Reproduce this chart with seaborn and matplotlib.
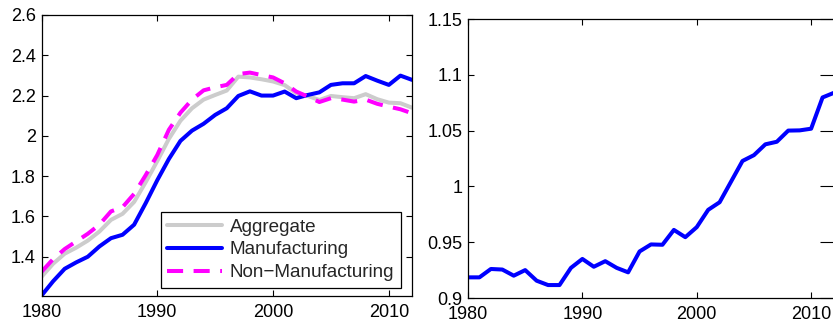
import matplotlib
matplotlib.use("Agg")
import matplotlib.pyplot as plt
import seaborn as sns
import pandas as pd

years = list(range(1980, 2013))

aggregate = [1.30, 1.365, 1.415, 1.445, 1.48, 1.525, 1.583, 1.613, 1.672, 1.77,
             1.875, 1.985, 2.075, 2.137, 2.18, 2.203, 2.225, 2.294, 2.29, 2.281,
             2.27, 2.252, 2.212, 2.198, 2.178, 2.198, 2.192, 2.187, 2.207, 2.182,
             2.165, 2.162, 2.14]

manufacturing = [1.207, 1.278, 1.34, 1.372, 1.40, 1.451, 1.492, 1.509, 1.559, 1.666,
                 1.78, 1.885, 1.975, 2.026, 2.06, 2.104, 2.137, 2.198, 2.221, 2.20,
                 2.20, 2.22, 2.187, 2.203, 2.216, 2.253, 2.261, 2.261, 2.297, 2.274,
                 2.253, 2.299, 2.278]

non_manufacturing = [1.325, 1.388, 1.438, 1.476, 1.514, 1.559, 1.625, 1.646, 1.712, 1.805,
                     1.905, 2.03, 2.115, 2.18, 2.226, 2.241, 2.253, 2.307, 2.314, 2.302,
                     2.29, 2.261, 2.22, 2.195, 2.168, 2.187, 2.18, 2.17, 2.18, 2.159,
                     2.145, 2.132, 2.112]

ratio = [0.9185, 0.9185, 0.926, 0.9255, 0.920, 0.925, 0.9155, 0.9116, 0.9116, 0.927,
         0.935, 0.928, 0.933, 0.927, 0.923, 0.9417, 0.948, 0.9477, 0.961, 0.9545,
         0.9635, 0.979, 0.9858, 1.0043, 1.0228, 1.028, 1.0377, 1.040, 1.050, 1.0502,
         1.0517, 1.0797, 1.0839]

series_names = ["Aggregate", "Manufacturing", "Non\u2212Manufacturing"]
x_ticks = [1980, 1990, 2000, 2010]
left_y_ticks = [1.4, 1.6, 1.8, 2.0, 2.2, 2.4, 2.6]
left_y_labels = ["1.4", "1.6", "1.8", "2", "2.2", "2.4", "2.6"]
right_y_ticks = [0.9, 0.95, 1.0, 1.05, 1.1, 1.15]
right_y_labels = ["0.9", "0.95", "1", "1.05", "1.1", "1.15"]

sns.set_theme(style="white")
plt.rcParams["font.family"] = ["Liberation Sans", "DejaVu Sans"]
plt.rcParams["axes.edgecolor"] = "black"
plt.rcParams["axes.linewidth"] = 0.9

FS = 13

fig = plt.figure(figsize=(8.33, 3.23), dpi=100)
ax1 = fig.add_axes([41.5 / 833, (323 - 296) / 323, (412 - 41.5) / 833, (296 - 15) / 323])
ax2 = fig.add_axes([468 / 833, (323 - 298) / 323, (834 - 468) / 833, (298 - 19) / 323])

left_df = pd.DataFrame({"year": years, "Aggregate": aggregate,
                        "Manufacturing": manufacturing,
                        "Non\u2212Manufacturing": non_manufacturing})

styles = {
    "Aggregate": dict(color=(0.8, 0.8, 0.8), linestyle="-"),
    "Manufacturing": dict(color=(0, 0, 1), linestyle="-"),
    "Non\u2212Manufacturing": dict(color=(1, 0, 1), linestyle=(0, (4, 2.6))),
}
for name in series_names:
    sns.lineplot(data=left_df, x="year", y=name, ax=ax1, label=name,
                 linewidth=2.9, **styles[name])

ax1.set_xlim(1980, 2012)
ax1.set_ylim(min(manufacturing) - 0.002, 2.6)
ax1.set_yticks(left_y_ticks)
ax1.set_yticklabels(left_y_labels)

sns.lineplot(x=years, y=ratio, ax=ax2, color=(0, 0, 1), linewidth=2.9)
ax2.set_xlim(1980, 2012)
ax2.set_ylim(0.9, 1.15)
ax2.set_yticks(right_y_ticks)
ax2.set_yticklabels(right_y_labels)

for ax in (ax1, ax2):
    ax.set_xticks(x_ticks)
    ax.set_xticklabels([str(t) for t in x_ticks])
    ax.set_xlabel("")
    ax.set_ylabel("")
    ax.tick_params(direction="in", length=4, width=0.8, top=True, right=True,
                   bottom=True, left=True, labelsize=FS, colors="black", pad=4)
    ax.tick_params(axis="x", pad=6)
    for sp in ax.spines.values():
        sp.set_visible(True)
        sp.set_color("black")
        sp.set_linewidth(0.9)

# longer inward ticks on the right edge of the second panel
for tick in ax2.yaxis.get_major_ticks():
    tick.tick2line.set_markersize(10)

leg = ax1.legend(loc="lower right", bbox_to_anchor=(0.970, 0.0285), borderaxespad=0,
                 fontsize=13.6, frameon=True, fancybox=False, handlelength=2.9,
                 handletextpad=0.4, labelspacing=0.3, borderpad=0.35)
leg.get_frame().set_edgecolor("black")
leg.get_frame().set_linewidth(0.9)
leg.get_frame().set_alpha(1)

fig.savefig("out.png", dpi=100)
